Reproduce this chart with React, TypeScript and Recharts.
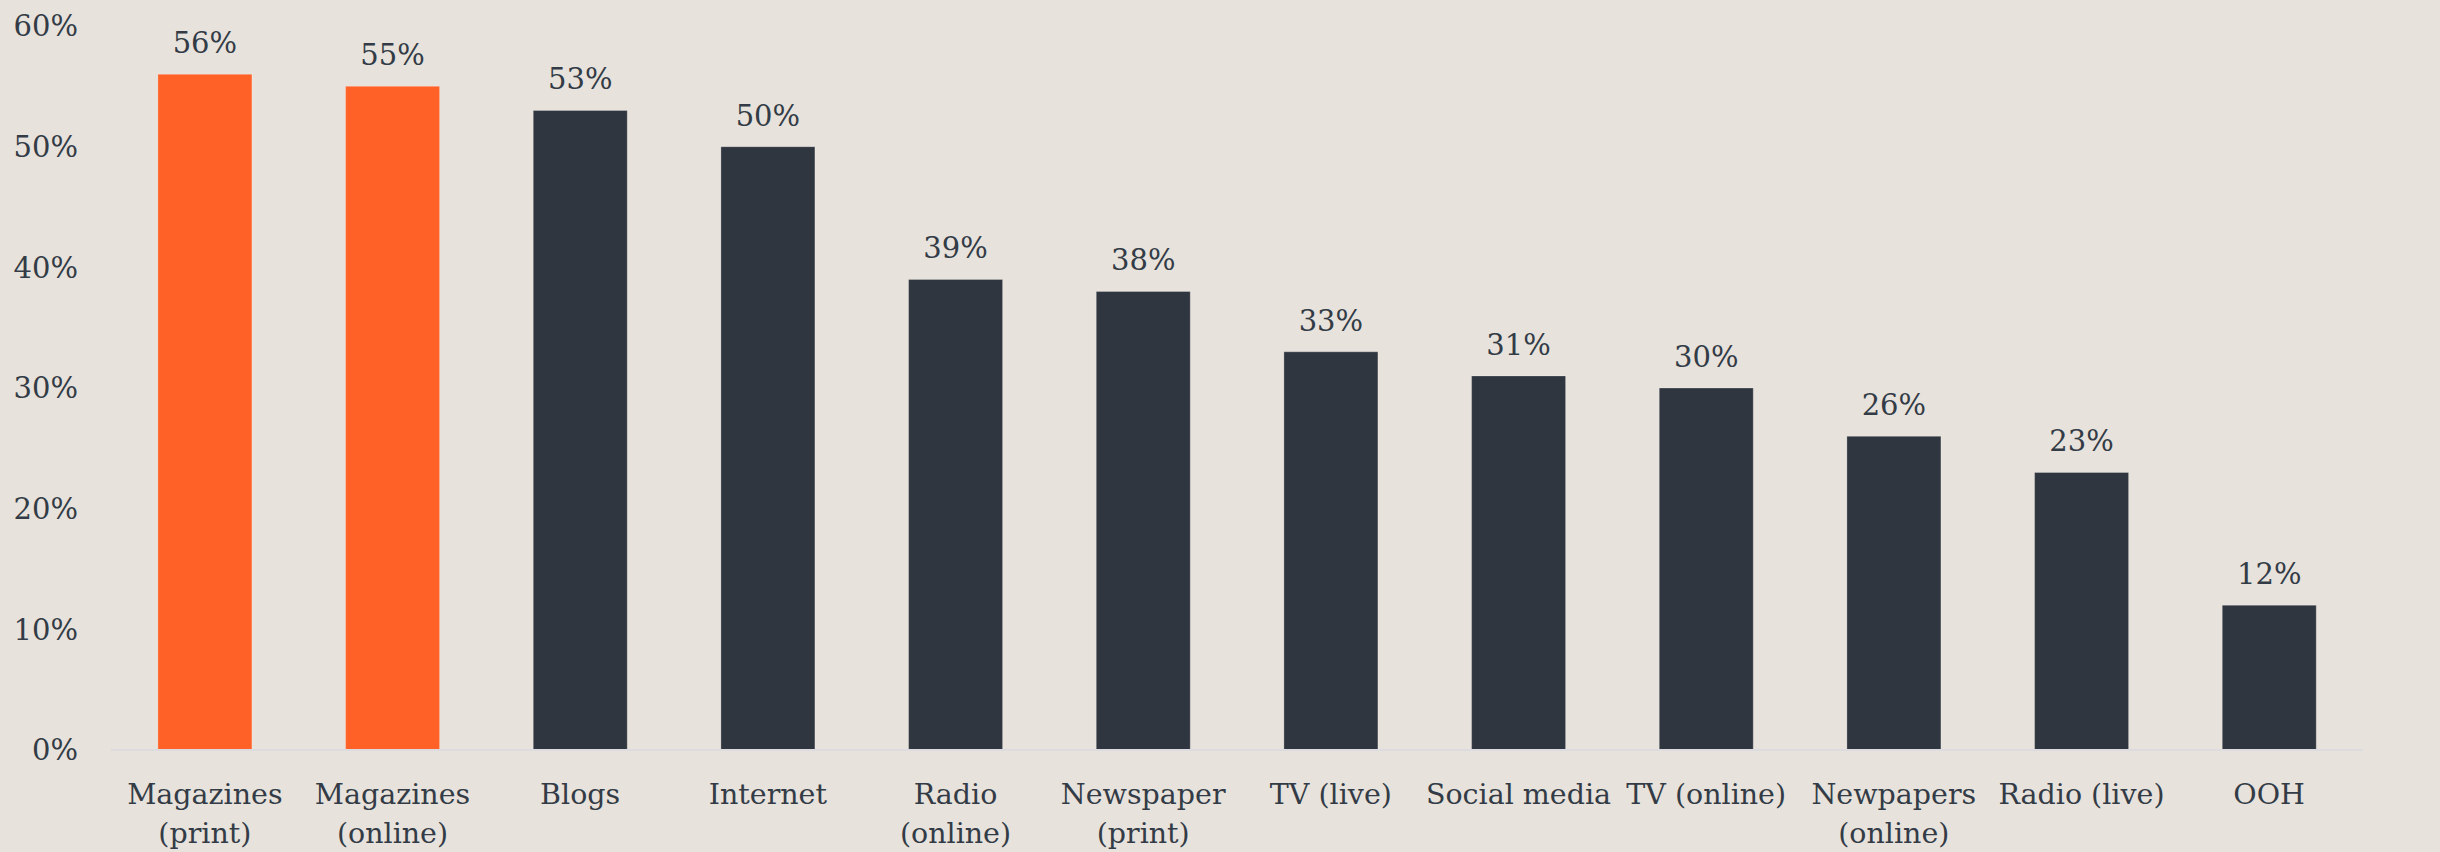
import React from "react";
import { BarChart, Bar, XAxis, YAxis, Cell, LabelList } from "recharts";

const categories = [
  "Magazines\n(print)",
  "Magazines\n(online)",
  "Blogs",
  "Internet",
  "Radio\n(online)",
  "Newspaper\n(print)",
  "TV (live)",
  "Social media",
  "TV (online)",
  "Newpapers\n(online)",
  "Radio (live)",
  "OOH",
];
const values = [56, 55, 53, 50, 39, 38, 33, 31, 30, 26, 23, 12];
const highlighted = ["Magazines\n(print)", "Magazines\n(online)"];
const yTicks = [0, 10, 20, 30, 40, 50, 60];

const data = categories.map((c, i) => ({ name: c, value: values[i] }));

const FONT = "'DejaVu Serif', serif";
const TEXT = "#333c46";
const ORANGE = "#ff6126";
const DARK = "#30363f";
const BG = "#e8e2dc";

const XTick = (props: any) => {
  const { x, y, payload } = props;
  const lines = String(payload.value).split("\n");
  return (
    <text x={x} y={y + 54} textAnchor="middle" fill={TEXT} fontFamily={FONT} fontSize={28.5}>
      {lines.map((l, i) => (
        <tspan key={i} x={x} dy={i === 0 ? 0 : 39}>
          {l}
        </tspan>
      ))}
    </text>
  );
};

export default function App() {
  return (
    <div style={{ position: "absolute", left: 0, top: 0, width: 2440, height: 852, background: BG }}>
      <BarChart
        width={2440}
        height={852}
        data={data}
        margin={{ top: 26, right: 77, bottom: 0, left: 0 }}
        barCategoryGap="25%"
      >
        <XAxis
          dataKey="name"
          interval={0}
          height={102}
          tickLine={false}
          tickSize={0}
          tickMargin={0}
          axisLine={{ stroke: "#dcdce0", strokeWidth: 2 }}
          tick={<XTick />}
        />
        <YAxis
          width={111}
          domain={[0, 60]}
          ticks={yTicks}
          axisLine={false}
          tickLine={false}
          tickSize={0}
          tickMargin={33}
          tickFormatter={(v: number) => `${v}%`}
          tick={{ fill: TEXT, fontFamily: FONT, fontSize: 29 }}
        />
        <Bar dataKey="value" isAnimationActive={false} stroke="rgba(255,255,255,0.25)" strokeWidth={1}>
          {data.map((d, i) => (
            <Cell key={i} fill={highlighted.includes(d.name) ? ORANGE : DARK} />
          ))}
          <LabelList
            dataKey="value"
            position="top"
            offset={21}
            formatter={(v: any) => `${v}%`}
            style={{ fill: TEXT, fontFamily: FONT, fontSize: 29 }}
          />
        </Bar>
      </BarChart>
    </div>
  );
}
